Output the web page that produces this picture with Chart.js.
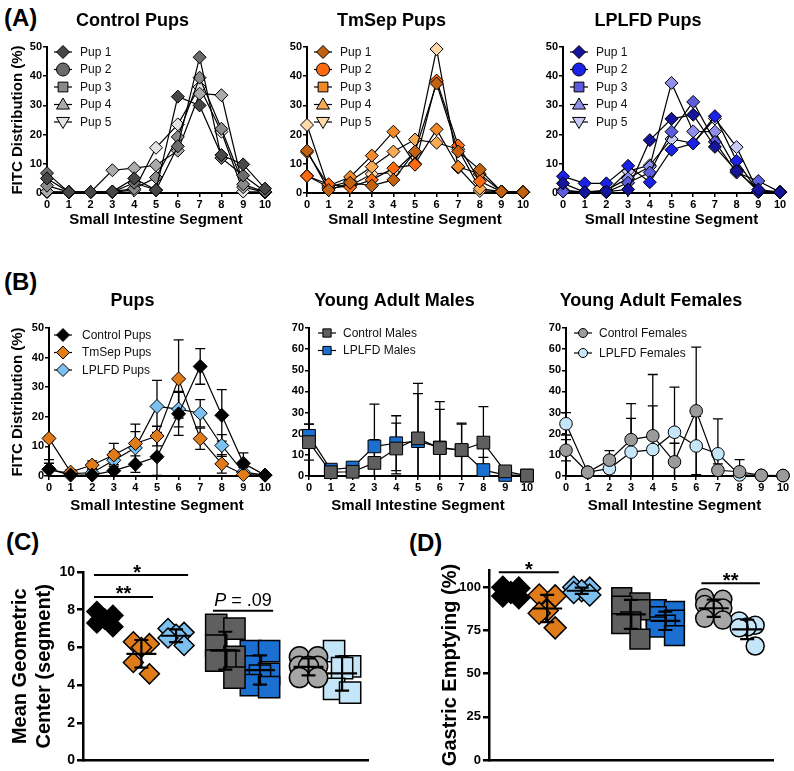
<!DOCTYPE html>
<html>
<head>
<meta charset="utf-8">
<script src="https://cdn.jsdelivr.net/npm/chart.js@4.4.1/dist/chart.umd.min.js"></script>
<style>
body { margin:0; width:794px; height:771px; overflow:hidden; background:#fff; position:relative; font-family:'Liberation Sans', Arial, sans-serif; }
canvas { position:absolute; }
.tag { position:absolute; font-weight:bold; font-size:24px; line-height:24px; color:#000; }
</style>
</head>
<body>
<div class="tag" style="left:4px;top:6px">(A)</div>
<div class="tag" style="left:4px;top:270px">(B)</div>
<div class="tag" style="left:6px;top:530px">(C)</div>
<div class="tag" style="left:409px;top:531px">(D)</div>

<canvas id="a1" width="312" height="232" style="left:0;top:0"></canvas>
<canvas id="a2" width="310" height="232" style="left:260px;top:0"></canvas>
<canvas id="a3" width="311" height="232" style="left:516px;top:0"></canvas>
<canvas id="b1" width="314" height="248" style="left:0;top:270px"></canvas>
<canvas id="b2" width="312" height="248" style="left:262px;top:270px"></canvas>
<canvas id="b3" width="311" height="248" style="left:519px;top:270px"></canvas>
<canvas id="c1" width="380" height="221" style="left:0;top:550px"></canvas>
<canvas id="d1" width="355" height="220" style="left:430px;top:550px"></canvas>

<script>
var FAMILY = "'Liberation Sans', Arial, sans-serif";
Chart.defaults.font.family = FAMILY;
Chart.defaults.color = '#000';
Chart.defaults.animation = false;

var segments = ['0','1','2','3','4','5','6','7','8','9','10'];

// (A) FITC distribution (%) of each pup
var controlPups = [
  [5, 0.3, 0.3, 0.5, 5, 1, 33, 30, 13, 9.8, 1.5],
  [6.8, 0.3, 0.3, 0.3, 3.5, 1, 16, 46.5, 12, 6, 0.5],
  [2.5, 0.3, 0.3, 0.5, 1.5, 5.3, 19.2, 39.5, 22, 3, 0.3],
  [0.5, 0.3, 0.3, 7.8, 8.5, 9.5, 14.5, 34, 33.5, 2, 0.3],
  [0.3, 0.3, 0.3, 0.3, 1, 15.5, 23.5, 36.3, 21, 0.5, 0.3]
];
var tmsepPups = [
  [14.5, 1, 3.5, 2.5, 4.5, 14.2, 37.5, 14.2, 8, 0.5, 0.3],
  [5.8, 3, 2, 4.5, 8.5, 9.7, 38.5, 16.3, 4, 0.5, 0.3],
  [14, 2.5, 5.5, 12.8, 21, 10, 21.8, 9, 6.5, 0.5, 0.3],
  [5.9, 2, 4, 9, 14.2, 18.3, 17.2, 15, 1.5, 0.5, 0.3],
  [23.3, 1.5, 2.5, 6.5, 7, 14, 49.3, 8.7, 0.7, 0.5, 0.3]
];
var lplfdPups = [
  [3.3, 0.3, 0.5, 1.2, 18.1, 25.4, 26.8, 15.8, 7.5, 1.2, 0.3],
  [5.7, 3.3, 3.3, 9.3, 3.7, 14.8, 17, 26.3, 11, 0.5, 0.3],
  [0.5, 0.3, 0.3, 3.5, 7, 21, 31.2, 17.5, 7, 4.1, 0.3],
  [1, 0.3, 1, 5, 9, 37.7, 21.1, 21, 8, 0.5, 0.3],
  [0.5, 0.3, 0.3, 7.5, 9.5, 18.5, 17, 25.5, 15.7, 0.3, 0.3]
];
var pupNames = ['Pup 1', 'Pup 2', 'Pup 3', 'Pup 4', 'Pup 5'];

// (B) group mean and SD per segment
var ctrlPupMean  = [2.3, 0.3, 0.3, 1.8, 4, 6.5, 21, 37, 20.5, 4.3, 0.3];
var ctrlPupSd    = [3.2, 0.3, 0.3, 2, 2.8, 6.3, 7.3, 6, 8.7, 3.5, 0.5];
var tmsepPupMean = [12.7, 1.3, 3.7, 7.1, 11, 13.5, 32.8, 12.6, 4.1, 0.5, 0.3];
var tmsepPupSd   = [0.8, 0.8, 1.4, 3.9, 6.5, 3.3, 13.2, 3.6, 3.1, 0.2, 0.1];
var lplfdPupMean = [2.2, 0.8, 1.1, 5.3, 9.5, 23.5, 22.6, 21.2, 10.3, 1.3, 0.3];
var lplfdPupSd   = [2.1, 1.3, 1.3, 3, 5.5, 8.8, 6, 4.6, 3.7, 1.6, 0.1];

var ctrlMaleMean  = [16, 1.8, 2, 6.2, 13, 17.8, 13.2, 12.3, 15.8, 2.2, 0.2];
var ctrlMaleSd    = [8.5, 1, 1, 11, 12, 26, 22, 12.7, 17, 2, 0.2];
var lplfdMaleMean = [19, 3, 4, 14, 15.5, 16.5, 13.5, 12.2, 2.8, 0.5, 0.2];
var lplfdMaleSd   = [5.5, 1.5, 1.5, 20, 13, 22.5, 18, 12.3, 6, 1, 0.2];

var ctrlFemaleMean  = [12.2, 1.8, 7.5, 17.2, 19, 6.7, 30.8, 2.7, 2, 0.3, 0.2];
var ctrlFemaleSd    = [5, 0.5, 4.5, 17, 29, 8.8, 30.2, 3, 5.7, 0.2, 0.1];
var lplfdFemaleMean = [24.7, 1.8, 3.5, 11.3, 12.5, 20.7, 14.2, 10.5, 0.5, 0.3, 0.2];
var lplfdFemaleSd   = [5.3, 0.5, 2, 16, 20.7, 21.3, 14, 16.5, 1, 0.2, 0.1];

// (C) mean geometric center and (D) gastric emptying, one list per group
var groupNames = ['Control Pups', 'TmSep Pups', 'LPLFD Pups', 'Control Males', 'LPLFD Males', 'Control Females', 'LPLFD Females'];
var geoCenter = [
  [7.9, 7.7, 7.5, 7.3, 7.1],
  [6.3, 6.2, 6.0, 5.2, 4.6],
  [7.0, 6.8, 6.7, 6.5, 6.1],
  [7.2, 7.0, 6.1, 5.5, 5.3, 5.3, 4.4],
  [5.8, 5.8, 5.0, 4.6, 4.5, 4.0, 3.9],
  [5.5, 5.5, 5.0, 5.0, 5.0, 4.4, 4.4],
  [5.8, 5.0, 4.9, 3.8, 3.6]
];
var gastricEmptying = [
  [100, 99.5, 97, 95, 94],
  [95.5, 95, 86.5, 85, 76.5],
  [100, 99.5, 98, 97, 95.5],
  [94, 91, 89, 87, 80, 79, 70],
  [87, 86, 83, 81, 78, 77, 72],
  [94, 93, 90, 88, 87, 82, 81],
  [80.5, 78, 77, 76.5, 66]
];

// look
var groupPos = [1.05, 2.05, 3.0, 4.35, 5.3, 6.63, 7.55];
var jitter5 = [-0.22, 0.22, 0, -0.22, 0.22];
var jitter7 = [-0.25, 0.25, -0.25, 0.25, 0, -0.25, 0.25];
var groupColors = ['#000000', '#e07b1a', '#7cc0f0', '#5f5f5f', '#1a6fd0', '#a6a6a6', '#c5e6f8'];

function drawMarker(ctx, style, x, y, r) {
  ctx.beginPath();
  if (style === 'circle') {
    ctx.arc(x, y, r, 0, Math.PI * 2);
  } else if (style === 'rect') {
    ctx.rect(x - r * 0.75, y - r * 0.75, r * 1.5, r * 1.5);
  } else if (style === 'triangle') {
    ctx.moveTo(x, y - r); ctx.lineTo(x + r, y + r * 0.7); ctx.lineTo(x - r, y + r * 0.7); ctx.closePath();
  } else if (style === 'triangleDown') {
    ctx.moveTo(x, y + r); ctx.lineTo(x + r, y - r * 0.7); ctx.lineTo(x - r, y - r * 0.7); ctx.closePath();
  } else {
    ctx.moveTo(x, y - r); ctx.lineTo(x + r, y); ctx.lineTo(x, y + r); ctx.lineTo(x - r, y); ctx.closePath();
  }
  ctx.fill();
  ctx.stroke();
}

var insideLegend = {
  id: 'insideLegend',
  afterDatasetsDraw: function(chart, args, opts) {
    var ctx = chart.ctx, area = chart.chartArea;
    ctx.save();
    chart.data.datasets.forEach(function(ds, i) {
      var x = area.left + opts.dx;
      var y = area.top + opts.dy + i * opts.step;
      ctx.strokeStyle = '#000';
      ctx.lineWidth = 1.2;
      ctx.beginPath(); ctx.moveTo(x - 9, y); ctx.lineTo(x + 9, y); ctx.stroke();
      ctx.fillStyle = ds.pointBackgroundColor;
      ctx.lineWidth = 1;
      drawMarker(ctx, opts.styles[i], x, y, opts.r);
      ctx.fillStyle = '#111';
      ctx.font = '12px ' + FAMILY;
      ctx.textAlign = 'left';
      ctx.textBaseline = 'middle';
      ctx.fillText(ds.label, area.left + opts.tx, y + 0.5);
    });
    ctx.restore();
  }
};

var errorBars = {
  id: 'errorBars',
  beforeDatasetsDraw: function(chart) {
    var ctx = chart.ctx, xs = chart.scales.x, ys = chart.scales.y;
    ctx.save();
    ctx.strokeStyle = '#000';
    ctx.lineWidth = 1.3;
    chart.data.datasets.forEach(function(ds) {
      if (!ds.sd) return;
      ds.data.forEach(function(v, j) {
        var px = xs.getPixelForValue(j);
        var hi = v + ds.sd[j], lo = Math.max(0, v - ds.sd[j]);
        var pt = ys.getPixelForValue(hi), pb = ys.getPixelForValue(lo);
        ctx.beginPath();
        ctx.moveTo(px, pt); ctx.lineTo(px, pb);
        ctx.moveTo(px - 5, pt); ctx.lineTo(px + 5, pt);
        if (lo > 0) { ctx.moveTo(px - 5, pb); ctx.lineTo(px + 5, pb); }
        ctx.stroke();
      });
    });
    ctx.restore();
  }
};

var meanSd = {
  id: 'meanSd',
  afterDatasetsDraw: function(chart) {
    var ctx = chart.ctx, xs = chart.scales.x, ys = chart.scales.y;
    ctx.save();
    ctx.strokeStyle = '#000';
    ctx.lineWidth = 2.2;
    chart.data.datasets.forEach(function(ds) {
      var vals = ds.data.map(function(p) { return p.y; });
      var m = vals.reduce(function(a, b) { return a + b; }, 0) / vals.length;
      var s = Math.sqrt(vals.reduce(function(a, b) { return a + (b - m) * (b - m); }, 0) / (vals.length - 1));
      var px = xs.getPixelForValue(ds.center);
      var pm = ys.getPixelForValue(m), pt = ys.getPixelForValue(m + s), pb = ys.getPixelForValue(m - s);
      ctx.beginPath();
      ctx.moveTo(px - 15, pm); ctx.lineTo(px + 15, pm);
      ctx.moveTo(px, pt); ctx.lineTo(px, pb);
      ctx.moveTo(px - 7, pt); ctx.lineTo(px + 7, pt);
      ctx.moveTo(px - 7, pb); ctx.lineTo(px + 7, pb);
      ctx.stroke();
    });
    ctx.restore();
  }
};

var sigBars = {
  id: 'sigBars',
  afterDraw: function(chart, args, opts) {
    var ctx = chart.ctx, xs = chart.scales.x, ys = chart.scales.y;
    ctx.save();
    ctx.strokeStyle = '#000';
    ctx.fillStyle = '#000';
    ctx.lineWidth = 2;
    (opts.bars || []).forEach(function(b) {
      var x1 = xs.getPixelForValue(b.x1), x2 = xs.getPixelForValue(b.x2), y = ys.getPixelForValue(b.y);
      ctx.beginPath(); ctx.moveTo(x1, y); ctx.lineTo(x2, y); ctx.stroke();
      var cx = (x1 + x2) / 2;
      ctx.textBaseline = 'alphabetic';
      if (b.p) {
        ctx.font = 'italic 18px ' + FAMILY;
        var w1 = ctx.measureText('P').width;
        ctx.font = '18px ' + FAMILY;
        var w2 = ctx.measureText(b.p).width;
        var sx = cx - (w1 + w2) / 2;
        ctx.textAlign = 'left';
        ctx.font = 'italic 18px ' + FAMILY;
        ctx.fillText('P', sx, y - 5);
        ctx.font = '18px ' + FAMILY;
        ctx.fillText(b.p, sx + w1, y - 5);
      } else {
        ctx.font = 'bold 20px ' + FAMILY;
        ctx.textAlign = 'center';
        ctx.fillText(b.text, cx + (b.dx || 0), y + 3.5);
      }
    });
    ctx.restore();
  }
};

function lineChart(id, o) {
  var datasets = o.series.map(function(vals, i) {
    return {
      label: o.names[i],
      data: vals,
      sd: o.sd ? o.sd[i] : null,
      borderColor: '#000',
      borderWidth: 1.2,
      pointStyle: o.marker,
      pointRadius: o.radius,
      pointHoverRadius: o.radius,
      pointBackgroundColor: o.colors[i],
      pointBorderColor: '#000',
      pointBorderWidth: 1,
      tension: 0,
      clip: false
    };
  });
  var axisGrid = { display: true, drawOnChartArea: false, drawTicks: true, tickLength: 4, color: '#000', lineWidth: 1.5 };
  var axisBorder = { display: true, color: '#000', width: 2 };
  return new Chart(document.getElementById(id), {
    type: 'line',
    data: { labels: segments, datasets: datasets },
    options: {
      responsive: false,
      layout: { autoPadding: false, padding: { left: 0, right: o.padR, top: 0, bottom: 0 } },
      plugins: {
        legend: { display: false },
        tooltip: { enabled: false },
        title: { display: true, text: o.title, color: '#000', font: { size: 18, weight: 'bold' },
                 padding: { top: o.titleTop, bottom: o.titleBottom } },
        insideLegend: o.legend
      },
      scales: {
        x: {
          grid: axisGrid,
          border: axisBorder,
          ticks: { font: { size: 11, weight: 'bold' }, padding: 1, maxRotation: 0, autoSkip: false, color: '#000' },
          title: { display: true, text: 'Small Intestine Segment', color: '#000', font: { size: 15, weight: 'bold' }, padding: { top: 0, bottom: 3 } },
          afterFit: function(s) { s.height = o.xH; }
        },
        y: {
          min: 0,
          max: o.ymax,
          grid: axisGrid,
          border: axisBorder,
          ticks: { stepSize: 10, font: { size: 11, weight: 'bold' }, padding: 1, color: '#000' },
          title: { display: !!o.yTitle, text: 'FITC Distribution (%)', color: '#000', font: { size: 15, weight: 'bold' }, padding: { top: 9, bottom: 0 } },
          afterFit: function(s) { s.width = o.yW; }
        }
      }
    },
    plugins: [errorBars, insideLegend]
  });
}

function dotChart(id, o) {
  var datasets = o.values.map(function(vals, g) {
    var jit = vals.length === 7 ? jitter7 : jitter5;
    return {
      label: groupNames[g],
      center: groupPos[g],
      data: vals.map(function(v, k) { return { x: groupPos[g] + jit[k], y: v }; }),
      pointStyle: o.styles[g],
      pointRadius: o.radii[g],
      pointHoverRadius: o.radii[g],
      backgroundColor: groupColors[g],
      borderColor: '#000',
      borderWidth: 1.5,
      clip: false
    };
  });
  return new Chart(document.getElementById(id), {
    type: 'scatter',
    data: { datasets: datasets },
    options: {
      responsive: false,
      layout: { autoPadding: false, padding: { left: 0, right: 12, top: o.padTop, bottom: 10 } },
      plugins: { legend: { display: false }, tooltip: { enabled: false }, sigBars: { bars: o.sig } },
      scales: {
        x: {
          type: 'linear', min: 0.45, max: 8.26,
          ticks: { display: false },
          grid: { display: false },
          border: { display: true, color: '#000', width: 2.5 },
          afterFit: function(s) { s.height = 0; }
        },
        y: {
          min: 0, max: o.ymax,
          ticks: { stepSize: o.step, font: { size: o.tickSize, weight: 'bold' }, padding: 2, color: '#000' },
          grid: { display: true, drawOnChartArea: false, drawTicks: true, tickLength: 6, color: '#000', lineWidth: 2.5 },
          border: { display: true, color: '#000', width: 2.5 },
          title: { display: true, text: o.yTitle, color: '#000', font: { size: 20, weight: 'bold' }, padding: { top: 8, bottom: 0 } },
          afterBuildTicks: function(s) { s.ticks = s.ticks.filter(function(t) { return t.value % o.step === 0; }); },
          afterFit: function(s) { s.width = o.yW; }
        }
      }
    },
    plugins: [meanSd, sigBars]
  });
}

var pupLegendStyles = ['rectRot', 'circle', 'rect', 'triangle', 'triangleDown'];
var rowA = { titleTop: 10, titleBottom: 15.4, xH: 39, yW: 47, padR: 47, ymax: 50, marker: 'rectRot', radius: 6.5, names: pupNames,
             legend: { dx: 16, dy: 5, step: 17.5, tx: 33, r: 6.5, styles: pupLegendStyles } };

lineChart('a1', Object.assign({}, rowA, { title: 'Control Pups', yTitle: true, series: controlPups,
  colors: ['#474747', '#6b6b6b', '#8a8a8a', '#ababab', '#e3e3e3'] }));
lineChart('a2', Object.assign({}, rowA, { title: 'TmSep Pups', series: tmsepPups,
  colors: ['#c0620f', '#ff6a10', '#f28a2a', '#f7ab55', '#fdd9aa'] }));
lineChart('a3', Object.assign({}, rowA, { title: 'LPLFD Pups', series: lplfdPups,
  colors: ['#14149c', '#1a22e8', '#5c5cdc', '#8f8fe8', '#cacaf6'] }));

var rowB = { titleTop: 20.2, titleBottom: 16.2, xH: 42, yW: 47, padR: 47 };
lineChart('b1', Object.assign({}, rowB, { title: 'Pups', yTitle: true, yW: 49, padR: 49, ymax: 50,
  series: [ctrlPupMean, tmsepPupMean, lplfdPupMean], sd: [ctrlPupSd, tmsepPupSd, lplfdPupSd],
  names: ['Control Pups', 'TmSep Pups', 'LPLFD Pups'], colors: ['#000000', '#e07b1a', '#7cc0f0'],
  marker: 'rectRot', radius: 7,
  legend: { dx: 14, dy: 7, step: 17.5, tx: 33, r: 6.5, styles: ['rectRot', 'rectRot', 'rectRot'] } }));
lineChart('b2', Object.assign({}, rowB, { title: 'Young Adult Males', ymax: 70,
  series: [ctrlMaleMean, lplfdMaleMean], sd: [ctrlMaleSd, lplfdMaleSd],
  names: ['Control Males', 'LPLFD Males'], colors: ['#5f5f5f', '#1a6fd0'],
  marker: 'rect', radius: 9,
  legend: { dx: 18, dy: 5, step: 17.5, tx: 34, r: 5.5, styles: ['rect', 'rect'] } }));
lineChart('b3', Object.assign({}, rowB, { title: 'Young Adult Females', ymax: 70,
  series: [ctrlFemaleMean, lplfdFemaleMean], sd: [ctrlFemaleSd, lplfdFemaleSd],
  names: ['Control Females', 'LPLFD Females'], colors: ['#9b9b9b', '#c5e6f8'],
  marker: 'circle', radius: 6.3,
  legend: { dx: 17, dy: 5, step: 20, tx: 33, r: 4.5, styles: ['circle', 'circle'] } }));

dotChart('c1', {
  values: geoCenter, ymax: 10, step: 2, tickSize: 14, yW: 83, padTop: 22,
  yTitle: ['Mean Geometric', 'Center (segment)'],
  styles: ['rectRot', 'rectRot', 'rectRot', 'rect', 'rect', 'circle', 'rect'],
  radii: [10, 10, 10, 15, 15, 10, 15],
  sig: [
    { x1: 0.75, x2: 3.33, y: 9.84, text: '*', dx: -4 },
    { x1: 0.75, x2: 2.37, y: 8.68, text: '**' },
    { x1: 4.01, x2: 5.66, y: 7.94, p: ' = .09' }
  ]
});

dotChart('d1', {
  values: gastricEmptying, ymax: 110, step: 25, tickSize: 13, yW: 59, padTop: 20,
  yTitle: 'Gastric Emptying (%)',
  styles: ['rectRot', 'rectRot', 'rectRot', 'rect', 'rect', 'circle', 'circle'],
  radii: [11, 11, 11, 14, 14, 9, 9],
  sig: [
    { x1: 0.72, x2: 2.37, y: 108.7, text: '*' },
    { x1: 6.29, x2: 7.9, y: 102.3, text: '**' }
  ]
});
</script>
</body>
</html>
